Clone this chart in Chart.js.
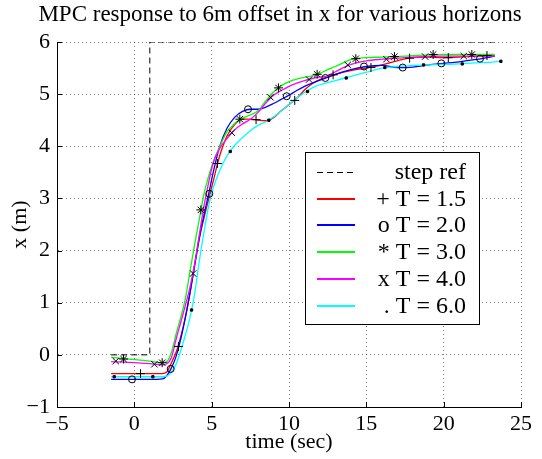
<!DOCTYPE html>
<html>
<head>
<meta charset="utf-8">
<script src="https://cdn.jsdelivr.net/npm/chart.js@4.4.0/dist/chart.umd.min.js"></script>
<style>
html, body { margin: 0; padding: 0; background: #fff; }
</style>
</head>
<body>
<canvas id="mpcChart" width="542" height="459"></canvas>
<script>
const SERIF = '"Liberation Serif", "Times New Roman", serif';

//--- DATA ---//
const titleText = "MPC response to 6m offset in x for various horizons";
const xTitle = "time (sec)";
const yTitle = "x (m)";
const xTicks = [-5, 0, 5, 10, 15, 20, 25];
const yTicks = [-1, 0, 1, 2, 3, 4, 5, 6];

const legendLabels = ["step ref", "+ T = 1.5", "o T = 2.0", "* T = 3.0", "x T = 4.0", ". T = 6.0"];

const stepTime = [-1.5, 1, 1, 23.5];
const stepValue = [0, 0, 6, 6];

const time = [-1.5, 0, 1, 1.8, 2.1, 2.4, 2.7, 3.0, 3.3, 3.6, 3.9, 4.2, 4.5, 4.8, 5.1, 5.5, 6.0, 6.5, 7.0, 7.5,
    8.0, 8.5, 9.0, 9.5, 10.0, 10.5, 11.0, 11.5, 12.0, 12.5, 13.0, 14.0, 15.0, 16.0, 17.0, 18.0, 19.0, 20.0,
    21.0, 22.0, 23.0, 23.3, 23.7];

const xT15 = [-0.36, -0.36, -0.36, -0.36, -0.33, -0.15, 0.05, 0.35, 0.72, 1.18, 1.72, 2.22, 2.62, 2.98, 3.33, 3.8, 4.2, 4.42, 4.52, 4.52,
    4.5, 4.49, 4.55, 4.68, 4.8, 4.92, 5.08, 5.2, 5.28, 5.33, 5.38, 5.45, 5.5, 5.56, 5.64, 5.7, 5.71, 5.7,
    5.71, 5.73, 5.74, 5.74, null];
const xT20 = [-0.47, -0.47, -0.47, -0.46, -0.4, -0.25, -0.03, 0.3, 0.72, 1.2, 1.72, 2.25, 2.68, 3.08, 3.5, 3.98, 4.35, 4.56, 4.67, 4.71,
    4.71, 4.75, 4.82, 4.9, 4.98, 5.07, 5.15, 5.21, 5.27, 5.32, 5.38, 5.47, 5.53, 5.55, 5.51, 5.52, 5.56, 5.59,
    5.62, 5.66, 5.71, 5.73, null];
const xT30 = [-0.05, -0.09, -0.12, -0.15, -0.13, 0.05, 0.4, 0.72, 1.08, 1.6, 2.12, 2.6, 3.08, 3.42, 3.7, 3.98, 4.28, 4.44, 4.54, 4.6,
    4.68, 4.87, 5.04, 5.16, 5.24, 5.29, 5.32, 5.35, 5.4, 5.47, 5.53, 5.66, 5.7, 5.71, 5.72, 5.74, 5.75, 5.76,
    5.76, 5.76, 5.76, 5.76, null];
const xT40 = [-0.13, -0.15, -0.17, -0.19, -0.17, -0.05, 0.3, 0.62, 0.95, 1.3, 1.75, 2.3, 2.85, 3.3, 3.68, 3.95, 4.15, 4.32, 4.43, 4.52,
    4.65, 4.83, 4.98, 5.07, 5.15, 5.21, 5.26, 5.3, 5.33, 5.35, 5.43, 5.57, 5.64, 5.67, 5.69, 5.71, 5.72, 5.73,
    5.73, 5.73, 5.73, 5.73, null];
const xT60 = [-0.42, -0.42, -0.42, -0.42, -0.41, -0.33, -0.18, 0.08, 0.38, 0.72, 1.17, 1.8, 2.35, 2.85, 3.2, 3.52, 3.82, 4.02, 4.17, 4.3,
    4.4, 4.47, 4.56, 4.68, 4.8, 4.92, 5.03, 5.12, 5.18, 5.22, 5.26, 5.34, 5.42, 5.5, 5.53, 5.55, 5.56, 5.57,
    5.58, 5.6, 5.61, 5.62, 5.63];

// marker samples (black symbols)
const markT15Time = [0.4, 2.85, 5.37, 7.87, 10.37, 12.85, 15.3, 17.8, 20.3, 22.8];
const markT15Value = [-0.36, 0.16, 3.67, 4.51, 4.88, 5.37, 5.51, 5.69, 5.7, 5.74];
const markT20Time = [-0.15, 2.35, 4.85, 7.35, 9.85, 12.35, 14.85, 17.35, 19.85, 22.35];
const markT20Value = [-0.47, -0.27, 3.09, 4.71, 4.96, 5.31, 5.53, 5.51, 5.59, 5.68];
const markT30Time = [-0.7, 1.8, 4.3, 6.82, 9.32, 11.82, 14.32, 16.82, 19.32, 21.82];
const markT30Value = [-0.08, -0.15, 2.78, 4.52, 5.12, 5.38, 5.68, 5.72, 5.76, 5.76];
const markT40Time = [-1.2, 1.3, 3.8, 6.3, 8.8, 11.3, 13.8, 16.3, 18.8, 21.3];
const markT40Value = [-0.12, -0.18, 1.56, 4.26, 4.94, 5.28, 5.56, 5.67, 5.72, 5.73];
const markT60Time = [-1.3, 1.2, 3.7, 6.2, 8.7, 11.2, 13.7, 16.2, 18.7, 21.2, 23.7];
const markT60Value = [-0.42, -0.42, 0.86, 3.9, 4.5, 5.05, 5.31, 5.51, 5.56, 5.58, 5.63];

//--- STYLE ---//
const lineColors = ["#000000", "#ff0000", "#0000ff", "#00ff00", "#ff00ff", "#00ffff"];
const gridColor = "rgba(0,0,0,0.5)";

function toPoints(xs, ys) {
    return xs.map((x, i) => ({ x: x, y: ys[i] })).filter(p => p.y !== null);
}

function lineSet(values, color, order) {
    return {
        data: toPoints(time, values),
        borderColor: color,
        borderWidth: 1.3,
        pointRadius: 0,
        cubicInterpolationMode: 'monotone',
        fill: false,
        order: order
    };
}

function markSet(xs, ys, style, radius, filled) {
    return {
        data: toPoints(xs, ys),
        showLine: false,
        pointStyle: style,
        pointRadius: radius,
        pointBorderColor: '#000',
        pointBackgroundColor: filled ? '#000' : 'rgba(0,0,0,0)',
        pointBorderWidth: 1,
        order: 0
    };
}

function minusLabel(v) {
    return v < 0 ? '\u2212' + Math.abs(v) : String(v);
}

// title drawn by hand so it sits where MATLAB put it
const plotTitle = {
    id: 'plotTitle',
    afterDraw(chart) {
        const ctx = chart.ctx;
        ctx.save();
        ctx.font = '23px ' + SERIF;
        ctx.fillStyle = '#000';
        ctx.textAlign = 'center';
        ctx.textBaseline = 'middle';
        ctx.fillText(titleText, 280, 15);
        ctx.restore();
    }
};

// inward tick marks on the left and bottom axes
const innerTicks = {
    id: 'innerTicks',
    afterDatasetsDraw(chart) {
        const { ctx, chartArea, scales } = chart;
        ctx.save();
        ctx.strokeStyle = '#000';
        ctx.lineWidth = 1;
        ctx.beginPath();
        xTicks.forEach(v => {
            const px = Math.round(scales.x.getPixelForValue(v)) + 0.5;
            ctx.moveTo(px, chartArea.bottom);
            ctx.lineTo(px, chartArea.bottom - 5);
        });
        yTicks.forEach(v => {
            const py = Math.round(scales.y.getPixelForValue(v)) + 0.5;
            ctx.moveTo(chartArea.left, py);
            ctx.lineTo(chartArea.left + 5, py);
        });
        ctx.stroke();
        ctx.restore();
    }
};

// MATLAB style legend box, text right aligned
const boxLegend = {
    id: 'boxLegend',
    afterDraw(chart) {
        const ctx = chart.ctx;
        const left = 305.5, top = 152.5, w = 174, h = 172;
        const rowTop = 172, rowGap = 26.7;
        ctx.save();
        ctx.fillStyle = '#fff';
        ctx.fillRect(left, top, w, h);
        ctx.strokeStyle = '#000';
        ctx.lineWidth = 1;
        ctx.strokeRect(left, top, w, h);
        ctx.font = '24px ' + SERIF;
        ctx.textAlign = 'right';
        ctx.textBaseline = 'middle';
        legendLabels.forEach((label, i) => {
            const y = Math.round(rowTop + i * rowGap);
            ctx.beginPath();
            ctx.strokeStyle = lineColors[i];
            ctx.lineWidth = i === 0 ? 1 : 2;
            ctx.setLineDash(i === 0 ? [6, 4] : []);
            ctx.moveTo(317, i === 0 ? y + 0.5 : y);
            ctx.lineTo(355, i === 0 ? y + 0.5 : y);
            ctx.stroke();
            ctx.setLineDash([]);
            ctx.fillStyle = '#000';
            ctx.fillText(label, 466, y + 1);
        });
        ctx.restore();
    }
};

let mpcCanvas = document.getElementById("mpcChart").getContext("2d");
var mpcChart = new Chart(mpcCanvas, {
    type: "line",
    data: {
        datasets: [
            markSet(markT15Time, markT15Value, 'cross', 4.5, false),
            markSet(markT20Time, markT20Value, 'circle', 3.5, false),
            markSet(markT30Time, markT30Value, 'star', 4.5, false),
            markSet(markT40Time, markT40Value, 'crossRot', 4.5, false),
            markSet(markT60Time, markT60Value, 'rect', 1.6, true),
            {
                data: toPoints(stepTime, stepValue),
                borderColor: lineColors[0],
                borderWidth: 1,
                borderDash: [6, 4],
                pointRadius: 0,
                tension: 0,
                order: 6
            },
            lineSet(xT15, lineColors[1], 5),
            lineSet(xT20, lineColors[2], 4),
            lineSet(xT30, lineColors[3], 3),
            lineSet(xT40, lineColors[4], 2),
            lineSet(xT60, lineColors[5], 1)
        ]
    },
    options: {
        responsive: false,
        animation: false,
        devicePixelRatio: 1,
        layout: {
            padding: { left: 0, right: 21, top: 42, bottom: 0 }
        },
        plugins: {
            legend: { display: false },
            tooltip: { enabled: false },
            title: { display: false }
        },
        scales: {
            x: {
                type: 'linear',
                min: -5,
                max: 25,
                afterFit(scale) { scale.height = 52; },
                afterBuildTicks(scale) { scale.ticks = xTicks.map(v => ({ value: v })); },
                ticks: {
                    color: '#000',
                    padding: 4,
                    maxRotation: 0,
                    font: { family: SERIF, size: 22 },
                    callback: minusLabel
                },
                grid: { color: gridColor, drawTicks: false, lineWidth: 1 },
                border: { display: true, color: '#000', width: 1, dash: [1, 3] },
                title: {
                    display: true,
                    text: xTitle,
                    color: '#000',
                    font: { family: SERIF, size: 22 },
                    padding: { top: 0, bottom: 4 }
                }
            },
            y: {
                min: -1,
                max: 6,
                afterFit(scale) { scale.width = 57; },
                afterBuildTicks(scale) { scale.ticks = yTicks.map(v => ({ value: v })); },
                ticks: {
                    color: '#000',
                    padding: 7,
                    font: { family: SERIF, size: 22 },
                    callback: minusLabel
                },
                grid: { color: gridColor, drawTicks: false, lineWidth: 1 },
                border: { display: true, color: '#000', width: 1, dash: [1, 3] },
                title: {
                    display: true,
                    text: yTitle,
                    color: '#000',
                    font: { family: SERIF, size: 22 },
                    padding: { top: 7, bottom: 0 }
                }
            }
        }
    },
    plugins: [innerTicks, boxLegend, plotTitle]
});
</script>
</body>
</html>
